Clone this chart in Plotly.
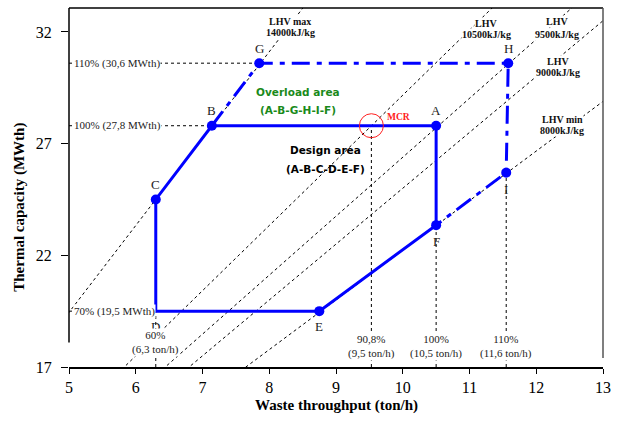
import plotly.graph_objects as go

# ---------------- data ----------------
point_names = ["A", "B", "C", "D", "E", "F", "G", "H", "I"]
point_x = [10.5, 7.14, 6.3, 6.3, 8.75, 10.5, 7.85, 11.58, 11.55]
point_y = [27.8, 27.8, 24.5, 19.5, 19.5, 23.35, 30.6, 30.6, 25.7]

design_path = ["A", "B", "C", "D", "E", "F", "A"]
overload_path = ["B", "G", "H", "I", "F"]
marker_points = ["A", "B", "C", "E", "F", "G", "H", "I"]

lhv_values = [14000, 10500, 9500, 9000, 8000]          # kJ/kg
lhv_line1 = ["LHV max", "LHV", "LHV", "LHV", "LHV min"]
lhv_line2 = ["14000kJ/kg", "10500kJ/kg", "9500kJ/kg", "9000kJ/kg", "8000kJ/kg"]
lhv_x_span = [0, 13]

mcr_x = 9.53
mcr_y = 27.8

cap_levels = [30.6, 27.8, 19.5]
cap_labels = ["110% (30,6 MWth)", "100% (27,8 MWth)", "70% (19,5 MWth)"]
cap_line_end = [7.85, 9.53, 6.3]

thr_levels = [6.3, 9.53, 10.5, 11.55]
thr_labels = ["60%<br>(6,3 ton/h)", "90,8%<br>(9,5 ton/h)", "100%<br>(10,5 ton/h)", "110%<br>(11,6 ton/h)"]
thr_line_top = [19.5, 27.8, 23.35, 25.7]

x_ticks = [5, 6, 7, 8, 9, 10, 11, 12, 13]
y_ticks = [17, 22, 27, 32]

# ---------------- figure ----------------
P = dict(zip(point_names, zip(point_x, point_y)))
BLUE = "#0000ff"
SERIF = "Liberation Serif, Times New Roman, serif"
COMIC = "DejaVu Sans, sans-serif"

L, R, T, B = 69, 15, 8, 58
W, H = 618, 425


def px(xp):  # pixel -> paper x
    return (xp - L) / (W - L - R)


def py(yp):  # pixel -> paper y
    return (H - B - yp) / (H - B - T)


fig = go.Figure()

# LHV iso-lines (thermal capacity = throughput * LHV / 3600)
for v in lhv_values:
    fig.add_trace(go.Scatter(
        x=lhv_x_span, y=[xx * v / 3600 for xx in lhv_x_span],
        mode="lines", line=dict(color="black", width=1, dash="dot"),
        hoverinfo="skip", showlegend=False))

# horizontal capacity reference lines
for lvl, xe in zip(cap_levels, cap_line_end):
    fig.add_trace(go.Scatter(x=[5, xe], y=[lvl, lvl], mode="lines",
                             line=dict(color="black", width=1, dash="dot"),
                             hoverinfo="skip", showlegend=False))
# vertical throughput reference lines
for xv, yt in zip(thr_levels, thr_line_top):
    fig.add_trace(go.Scatter(x=[xv, xv], y=[17, yt], mode="lines",
                             line=dict(color="black", width=1, dash="dot"),
                             hoverinfo="skip", showlegend=False))

# design area
fig.add_trace(go.Scatter(
    x=[P[n][0] for n in design_path], y=[P[n][1] for n in design_path],
    mode="lines", line=dict(color=BLUE, width=3), showlegend=False))
# overload area
fig.add_trace(go.Scatter(
    x=[P[n][0] for n in overload_path], y=[P[n][1] for n in overload_path],
    mode="lines", line=dict(color=BLUE, width=3, dash="18px,7px,5px,7px"),
    showlegend=False))
# markers
fig.add_trace(go.Scatter(
    x=[P[n][0] for n in marker_points], y=[P[n][1] for n in marker_points],
    mode="markers", marker=dict(color=BLUE, size=10), showlegend=False))

ann = []
# point letters
letter_shift = {"A": 15, "B": 15, "C": 15, "G": 15, "H": 15,
                "D": -15, "E": -15, "F": -16, "I": -17}
for n in point_names:
    ann.append(dict(x=P[n][0], y=P[n][1], text=n, showarrow=False,
                    yshift=letter_shift[n], font=dict(family=SERIF, size=13, color="#222")))

# capacity labels
for lvl, lab in zip(cap_levels, cap_labels):
    ann.append(dict(x=5, y=lvl, text=lab, showarrow=False, xanchor="left", xshift=4,
                    bgcolor="white", borderpad=0,
                    font=dict(family=SERIF, size=11, color="#222")))
# throughput labels
thr_label_y = [17.45, 17.25, 17.25, 17.25]
for xv, lab, ly in zip(thr_levels, thr_labels, thr_label_y):
    ann.append(dict(x=xv, y=ly, text=lab, showarrow=False, yanchor="bottom",
                    bgcolor="white", borderpad=0,
                    font=dict(family=SERIF, size=11, color="#222")))

# LHV labels (two lines each, white background)
lhv_label_px = [(290, 22, 33), (486, 23, 35), (557, 22, 34), (558, 61, 72), (562, 119, 130)]
for (lx, y1, y2), t1, t2 in zip(lhv_label_px, lhv_line1, lhv_line2):
    for yy, tt in ((y2, t2), (y1, t1)):
        ann.append(dict(x=px(lx), y=py(yy), xref="paper", yref="paper",
                        xanchor="center", yanchor="middle",
                        text="<b>" + tt + "</b>", showarrow=False,
                        bgcolor="white", borderpad=0,
                        font=dict(family=SERIF, size=10, color="#111")))

# area labels
for txt, xx, yy, col in (("Overload area", 298, 92, "#1a8a1a"),
                         ("(A-B-G-H-I-F)", 298, 110, "#1a8a1a"),
                         ("Design area", 325, 150, "black"),
                         ("(A-B-C-D-E-F)", 325, 169, "black")):
    ann.append(dict(x=px(xx), y=py(yy), xref="paper", yref="paper",
                    xanchor="center", yanchor="middle",
                    text="<b>" + txt + "</b>", showarrow=False,
                    font=dict(family=COMIC, size=10.5, color=col)))
# MCR label
ann.append(dict(x=mcr_x, y=mcr_y, text="<b>MCR</b>", showarrow=False, xanchor="left",
                xshift=14, yshift=9, font=dict(family=SERIF, size=9.5, color="#ff2020")))

# axis titles
ann.append(dict(x=0.5, y=-0.106, xref="paper", yref="paper", xanchor="center", yanchor="middle",
                text="<b>Waste throughput (ton/h)</b>", showarrow=False,
                font=dict(family=SERIF, size=15, color="black")))
ann.append(dict(x=-0.092, y=0.446, xref="paper", yref="paper", textangle=-90,
                xanchor="center", yanchor="middle",
                text="<b>Thermal capacity (MWth)</b>", showarrow=False,
                font=dict(family=SERIF, size=15, color="black")))

shapes = [
    # MCR circle
    dict(type="circle", xref="x", yref="y", xsizemode="pixel", ysizemode="pixel",
         xanchor=mcr_x, yanchor=mcr_y, x0=-12, x1=12, y0=-12, y1=12,
         line=dict(color="#ff2020", width=1)),
    # frame
    dict(type="line", xref="paper", yref="paper", x0=0, x1=1, y0=1, y1=1,
         line=dict(color="black", width=1.5)),
    dict(type="line", xref="paper", yref="y", x0=0, x1=0, y0=18.1, y1=33.07,
         line=dict(color="black", width=1.5)),
    dict(type="line", xref="paper", yref="y", x0=1, x1=1, y0=17.4, y1=33.07,
         line=dict(color="#555", width=1.5)),
]

fig.update_layout(
    width=W, height=H,
    margin=dict(l=L, r=R, t=T, b=B),
    paper_bgcolor="white", plot_bgcolor="white",
    annotations=ann, shapes=shapes,
    xaxis=dict(range=[5, 13], tickvals=x_ticks, showgrid=False, zeroline=False,
               showline=True, linecolor="black", linewidth=1.5,
               ticks="outside", ticklen=5, tickcolor="black", automargin=False,
               tickfont=dict(family=SERIF, size=16, color="black")),
    yaxis=dict(range=[17, 33.07], tickvals=y_ticks, showgrid=False, zeroline=False,
               showline=False, ticks="outside", ticklen=7, tickcolor="black", automargin=False,
               ticklabelstandoff=6,
               tickfont=dict(family=SERIF, size=16, color="black")),
)

fig.write_html("out.html", config={"displayModeBar": False},
               post_script="document.body.style.margin='0';document.body.style.overflow='hidden';")
